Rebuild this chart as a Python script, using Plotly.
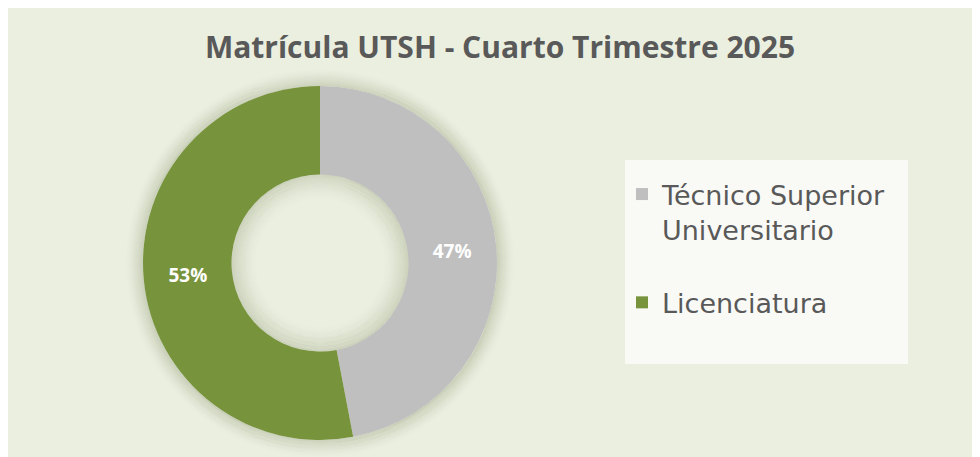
import plotly.graph_objects as go

# ---- data ----
categories = ["Técnico Superior<br>Universitario<br> ", "Licenciatura"]
percent_values = [47, 53]
slice_colors = ["#BFBFBF", "#77933C"]
title_text = "Matrícula UTSH - Cuarto Trimestre 2025"

W, H = 980, 457
BG = "#EBEFE0"
OFF = 8  # page body margin offset (screen px -> figure px)

# donut geometry (screen pixels)
cx, cy, R = 320, 263, 177
hole = 0.5

def px(x):
    return (x - OFF) / W

def py(y):
    return 1 - (y - OFF) / H

fig = go.Figure()
fig.add_trace(go.Pie(
    labels=categories,
    values=percent_values,
    marker=dict(colors=slice_colors, line=dict(width=0)),
    hole=hole,
    sort=False,
    direction="clockwise",
    rotation=0,
    textinfo="percent",
    texttemplate="%{percent:.0%}",
    textposition="inside",
    insidetextorientation="horizontal",
    textfont=dict(family="Open Sans", size=19, color="white", weight="bold"),
    domain=dict(x=[px(cx - R), px(cx + R)], y=[py(cy + R), py(cy - R)]),
    hoverinfo="label+percent",
))

shapes = []
# outer soft shadow rings
N_OUT = 18
for k in range(1, N_OUT + 1):
    r = R + k - 0.5
    a = 0.24 * (1 - k / (N_OUT + 1)) ** 1.6
    shapes.append(dict(type="circle", xref="paper", yref="paper",
                       x0=px(cx - r), x1=px(cx + r), y0=py(cy + r), y1=py(cy - r),
                       fillcolor="rgba(0,0,0,0)",
                       line=dict(width=1.1, color=f"rgba(95,110,60,{a:.3f})"), layer="below"))
# inner shadow of hole
Ri = R * hole
N_IN = 26
for k in range(0, N_IN):
    r = Ri - k - 0.5
    a = 0.20 * (1 - k / N_IN) ** 1.6
    shapes.append(dict(type="circle", xref="paper", yref="paper",
                       x0=px(cx - r), x1=px(cx + r), y0=py(cy + r), y1=py(cy - r),
                       fillcolor="rgba(0,0,0,0)",
                       line=dict(width=1.1, color=f"rgba(95,110,60,{a:.3f})"),
                       layer="above"))
# legend box
shapes.append(dict(type="rect", xref="paper", yref="paper", x0=px(625), x1=px(908), y0=py(364), y1=py(160),
                   fillcolor="#F9FAF6", line=dict(width=0), layer="below"))

fig.update_layout(
    width=W, height=H,
    margin=dict(l=0, r=0, t=0, b=0),
    paper_bgcolor=BG,
    plot_bgcolor=BG,
    shapes=shapes,
    title=dict(text=title_text, x=px(500), xanchor="center", y=py(47), yanchor="middle",
               font=dict(family="Open Sans", size=30, color="#595959", weight="bold")),
    showlegend=True,
    legend=dict(x=px(622), xanchor="left", y=py(170), yanchor="top",
                bgcolor="rgba(0,0,0,0)", valign="top",
                font=dict(family="DejaVu Sans", size=27, color="#595959"),
                itemwidth=30),
)

fig.write_html("out.html")
